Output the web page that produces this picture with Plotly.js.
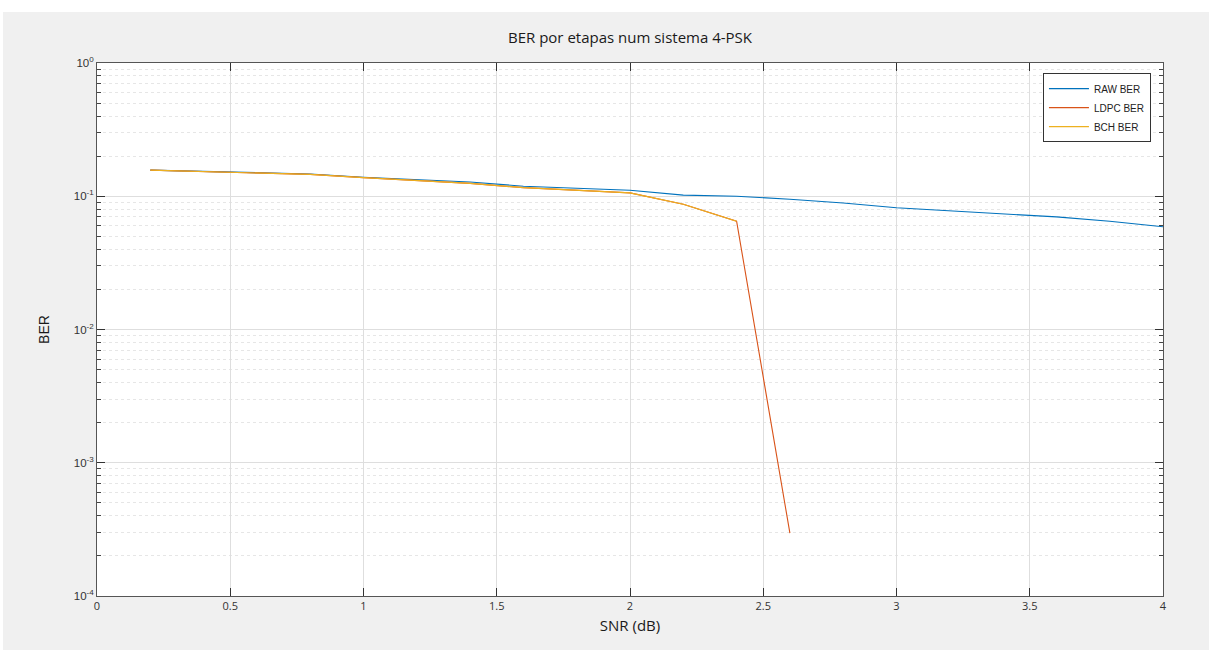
<!DOCTYPE html>
<html>
<head>
<meta charset="utf-8">
<script src="https://cdn.plot.ly/plotly-3.0.1.min.js"></script>
<style>
  html, body { margin: 0; padding: 0; background: #ffffff; overflow: hidden; }
  #chart { position: absolute; left: 3px; top: 12px; width: 1206px; height: 638px; }
</style>
</head>
<body>
<div id="chart"></div>
<script>
// ---- data ----
const snrDb = [0.2, 0.4, 0.6, 0.8, 1.0, 1.2, 1.4, 1.6, 1.8, 2.0, 2.2, 2.4, 2.6, 2.8, 3.0, 3.2, 3.4, 3.6, 3.8, 4.0];
const rawBer = [0.157, 0.154, 0.151, 0.147, 0.139, 0.133, 0.128, 0.119, 0.115, 0.111, 0.102, 0.100, 0.095, 0.089, 0.082, 0.078, 0.074, 0.070, 0.065, 0.059];
const ldpcSnr = [0.2, 0.4, 0.6, 0.8, 1.0, 1.2, 1.4, 1.6, 1.8, 2.0, 2.2, 2.4, 2.6];
const ldpcBer = [0.157, 0.153, 0.150, 0.146, 0.138, 0.131, 0.125, 0.116, 0.111, 0.106, 0.087, 0.065, 0.000296];
const bchSnr = [0.2, 0.4, 0.6, 0.8, 1.0, 1.2, 1.4, 1.6, 1.8, 2.0, 2.2, 2.4];
const bchBer = [0.157, 0.153, 0.150, 0.146, 0.138, 0.131, 0.125, 0.116, 0.111, 0.106, 0.087, 0.065];
const seriesNames = ["RAW BER", "LDPC BER", "BCH BER"];
const xTickVals = [0, 0.5, 1, 1.5, 2, 2.5, 3, 3.5, 4];
const xTickText = ["0", "0.5", "1", "1.5", "2", "2.5", "3", "3.5", "4"];
const yTickVals = [1e-4, 1e-3, 1e-2, 1e-1, 1];
const yTickText = ["10<sup>-4</sup>", "10<sup>-3</sup>", "10<sup>-2</sup>", "10<sup>-1</sup>", "10<sup>0</sup>"];

const yMinorVals = [];
for (let e = -4; e < 0; e++) {
  for (let m = 2; m <= 9; m++) yMinorVals.push(m * Math.pow(10, e));
}

const lineW = 1.1;
const traces = [
  { x: snrDb, y: rawBer, name: seriesNames[0], type: "scatter", mode: "lines",
    line: { color: "#0072BD", width: lineW } },
  { x: ldpcSnr, y: ldpcBer, name: seriesNames[1], type: "scatter", mode: "lines",
    line: { color: "#D95319", width: lineW } },
  { x: bchSnr, y: bchBer, name: seriesNames[2], type: "scatter", mode: "lines",
    line: { color: "#EDB120", width: lineW } }
];

const axisColor = "#555555";
const layout = {
  width: 1206, height: 638,
  paper_bgcolor: "#f0f0f0",
  plot_bgcolor: "#ffffff",
  margin: { l: 94, r: 46, t: 51, b: 54 },
  title: {
    text: "BER por etapas num sistema 4-PSK",
    font: { family: "Open Sans, sans-serif", size: 15, color: "#1a1a1a" },
    x: 0.5, xref: "paper", xanchor: "center", y: 0.96, yanchor: "middle"
  },
  showlegend: true,
  legend: {
    x: 0.9887, xanchor: "right", y: 0.981, yanchor: "top",
    bgcolor: "#ffffff", bordercolor: "#333333", borderwidth: 1,
    font: { family: "Liberation Sans, Arial, sans-serif", size: 10, color: "#222222" },
    tracegroupgap: 0, itemwidth: 40
  },
  xaxis: {
    range: [0, 4],
    tickmode: "array", tickvals: xTickVals, ticktext: xTickText,
    ticks: "inside", ticklen: 8, tickcolor: "#333333", tickwidth: 1,
    showline: true, linecolor: axisColor, linewidth: 1, mirror: "ticks",
    showgrid: true, gridcolor: "#dedede", gridwidth: 1,
    zeroline: false,
    tickfont: { family: "Open Sans, sans-serif", size: 11, color: "#333333" },
    title: { text: "SNR (dB)", font: { family: "Open Sans, sans-serif", size: 15, color: "#1a1a1a" }, standoff: 8 }
  },
  yaxis: {
    type: "log",
    range: [-4, 0],
    tickmode: "array", tickvals: yTickVals, ticktext: yTickText,
    ticks: "inside", ticklen: 8, tickcolor: "#333333", tickwidth: 1,
    showline: true, linecolor: axisColor, linewidth: 1, mirror: "ticks",
    showgrid: true, gridcolor: "#dedede", gridwidth: 1,
    zeroline: false,
    tickfont: { family: "Liberation Sans, Arial, sans-serif", size: 11.5, color: "#333333" },
    minor: {
      tickmode: "array", tickvals: yMinorVals,
      ticks: "inside", ticklen: 4, tickcolor: "#444444",
      showgrid: true, gridcolor: "#e6e6e6", griddash: "dot", gridwidth: 1
    },
    title: { text: "BER", font: { family: "Liberation Sans, Arial, sans-serif", size: 14, color: "#1a1a1a" }, standoff: 20 }
  }
};

Plotly.newPlot("chart", traces, layout, { staticPlot: true, displayModeBar: false });
</script>
</body>
</html>
